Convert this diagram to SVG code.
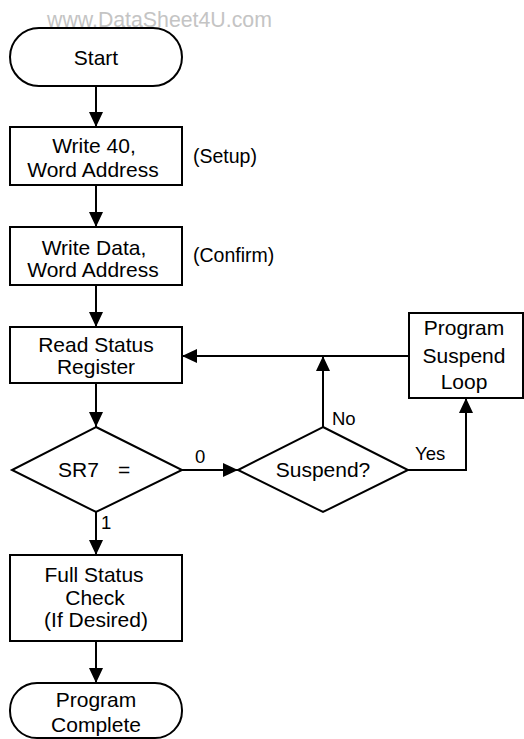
<svg xmlns="http://www.w3.org/2000/svg" width="524" height="739" viewBox="0 0 524 739">
<style>
.shape{fill:#fff;stroke:#000;stroke-width:2}
.t{font-family:"Liberation Sans",Arial,sans-serif;font-size:21px;fill:#000;text-anchor:middle}
.a{font-family:"Liberation Sans",Arial,sans-serif;font-size:19.5px;fill:#000}
.l{font-family:"Liberation Sans",Arial,sans-serif;font-size:18.5px;fill:#000}
.wm{font-family:"Liberation Sans",Arial,sans-serif;font-size:21.3px;fill:#c4c4c4}
.c{fill:none;stroke:#000;stroke-width:2}
</style>
<defs>
<marker id="ah" markerUnits="userSpaceOnUse" markerWidth="16" markerHeight="14" refX="15" refY="7" orient="auto">
<path d="M0,0 L15,7 L0,14 z" fill="#000"/>
</marker>
</defs>
<rect width="524" height="739" fill="#fff"/>
<text class="wm" x="47" y="27">www.DataSheet4U.com</text>

<g id="connectors">
<line class="c" x1="96" y1="86" x2="96" y2="127" marker-end="url(#ah)"/>
<line class="c" x1="96" y1="185" x2="96" y2="227" marker-end="url(#ah)"/>
<line class="c" x1="96" y1="285" x2="96" y2="327" marker-end="url(#ah)"/>
<line class="c" x1="96" y1="383" x2="96" y2="427" marker-end="url(#ah)"/>
<line class="c" x1="182" y1="470" x2="238" y2="470" marker-end="url(#ah)"/>
<line class="c" x1="323" y1="427" x2="323" y2="356" marker-end="url(#ah)"/>
<line class="c" x1="409" y1="356" x2="182" y2="356" marker-end="url(#ah)"/>
<polyline class="c" points="408,470 466,470 466,398" marker-end="url(#ah)"/>
<line class="c" x1="96" y1="512" x2="96" y2="555" marker-end="url(#ah)"/>
<line class="c" x1="96" y1="641" x2="96" y2="683" marker-end="url(#ah)"/>
<text class="l" x="195" y="463">0</text>
<text class="l" x="332" y="425">No</text>
<text class="l" x="415" y="460">Yes</text>
<text class="l" x="101" y="529">1</text>
</g>

<g id="start">
<rect class="shape" x="10" y="28" width="172" height="58" rx="29" ry="29"/>
<text class="t" x="96" y="65">Start</text>
</g>

<g id="write40">
<rect class="shape" x="10" y="127" width="172" height="58"/>
<text class="t" x="94" y="153">Write 40,</text>
<text class="t" x="93" y="177">Word Address</text>
<text class="a" x="193" y="163">(Setup)</text>
</g>

<g id="writedata">
<rect class="shape" x="10" y="227" width="172" height="58"/>
<text class="t" x="94" y="255">Write Data,</text>
<text class="t" x="93" y="277">Word Address</text>
<text class="a" x="193" y="262">(Confirm)</text>
</g>

<g id="readstatus">
<rect class="shape" x="10" y="327" width="172" height="56"/>
<text class="t" x="96" y="352">Read Status</text>
<text class="t" x="96" y="374">Register</text>
</g>

<g id="sr7">
<polygon class="shape" points="96,427 182,470 96,512 12,470"/>
<text class="t" x="58" y="477" style="text-anchor:start">SR7 <tspan x="118">=</tspan></text>
</g>

<g id="suspend">
<polygon class="shape" points="323,427 408,470 323,512 238,470"/>
<text class="t" x="323" y="477">Suspend?</text>
</g>

<g id="suspendloop">
<rect class="shape" x="409" y="313" width="114" height="85"/>
<text class="t" x="464" y="335">Program</text>
<text class="t" x="464" y="363">Suspend</text>
<text class="t" x="464" y="389">Loop</text>
</g>

<g id="fullstatus">
<rect class="shape" x="10" y="555" width="172" height="86"/>
<text class="t" x="94" y="582">Full Status</text>
<text class="t" x="95" y="605">Check</text>
<text class="t" x="96" y="627">(If Desired)</text>
</g>

<g id="complete">
<rect class="shape" x="10" y="683" width="172" height="55" rx="27" ry="27"/>
<text class="t" x="96" y="707">Program</text>
<text class="t" x="96" y="732">Complete</text>
</g>
</svg>
